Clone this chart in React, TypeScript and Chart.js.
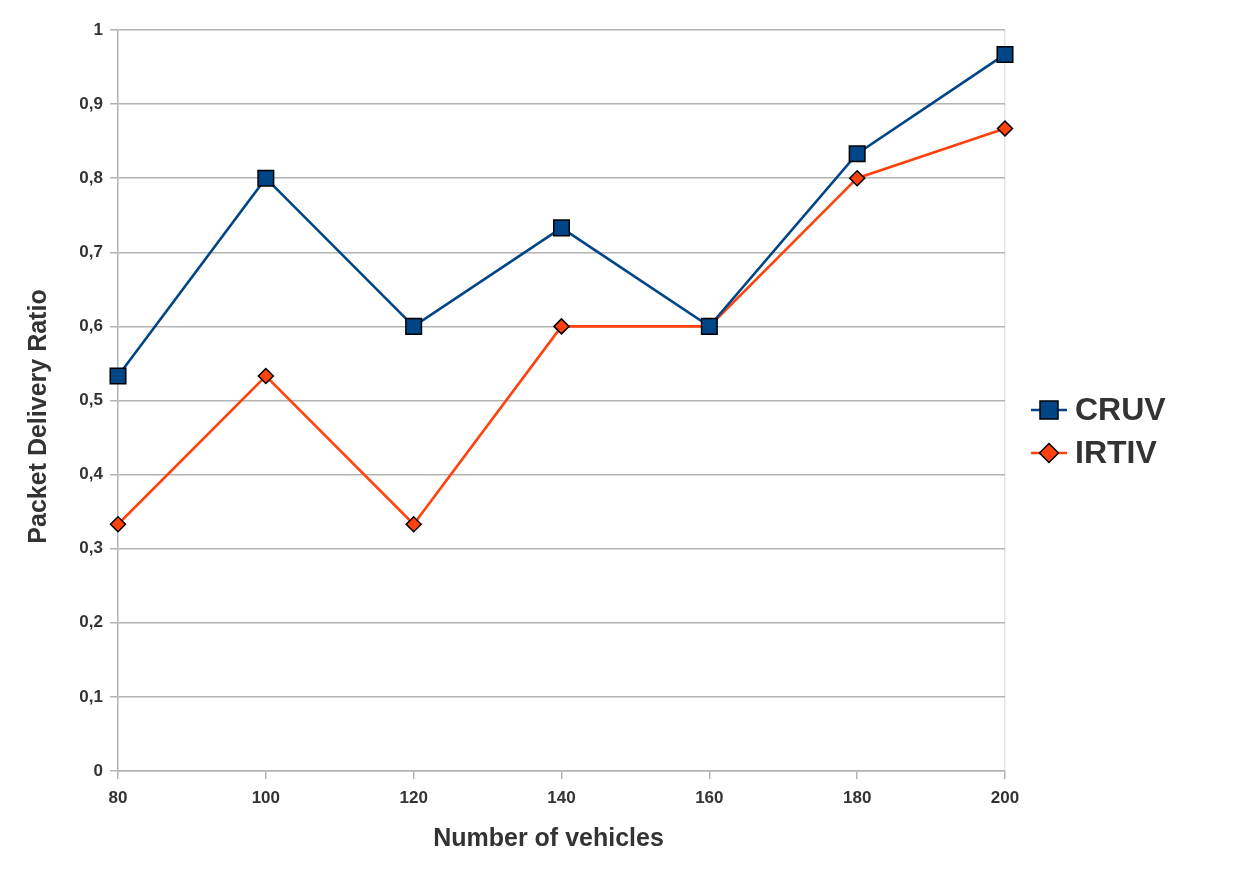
import React, { useEffect, useRef } from "react";
import { Chart, registerables } from "chart.js";

Chart.register(...registerables);

const vehicles = ["80", "100", "120", "140", "160", "180", "200"];
const cruv = [0.533, 0.8, 0.6, 0.733, 0.6, 0.833, 0.967];
const irtiv = [0.333, 0.533, 0.333, 0.6, 0.6, 0.8, 0.867];

const xTitle = "Number of vehicles";
const yTitle = "Packet Delivery Ratio";

const FONT = "'Liberation Sans', Arial, sans-serif";
const TEXT = "#333333";
const GRID = "#b3b3b3";
const BLUE = "#004586";
const ORANGE = "#ff420e";

// Axis titles and the legend beside the plot (line segment with the series marker on it).
const sideDecor = {
  id: "sideDecor",
  afterDraw(chart: any) {
    const { ctx, chartArea } = chart;
    ctx.save();

    ctx.fillStyle = TEXT;
    ctx.font = `bold 25px ${FONT}`;
    ctx.textAlign = "center";
    ctx.textBaseline = "middle";
    ctx.fillText(xTitle, chartArea.left + (chartArea.right - chartArea.left) / 2 - 13, 839);
    ctx.save();
    ctx.translate(39.5, chartArea.top + (chartArea.bottom - chartArea.top) / 2 + 16);
    ctx.rotate(-Math.PI / 2);
    ctx.fillText(yTitle, 0, 0);
    ctx.restore();

    const x0 = chartArea.right + 26;
    chart.data.datasets.forEach((ds: any, i: number) => {
      const y = 410 + i * 43;
      ctx.strokeStyle = ds.borderColor;
      ctx.lineWidth = 2.5;
      ctx.beginPath();
      ctx.moveTo(x0, y);
      ctx.lineTo(x0 + 36, y);
      ctx.stroke();
      ctx.fillStyle = ds.pointBackgroundColor;
      ctx.strokeStyle = "#000";
      ctx.lineWidth = 1.5;
      const cx = x0 + 18;
      ctx.beginPath();
      if (ds.pointStyle === "rect") {
        ctx.rect(cx - 9, y - 9, 18, 18);
      } else {
        ctx.moveTo(cx - 9.5, y);
        ctx.lineTo(cx, y - 9.5);
        ctx.lineTo(cx + 9.5, y);
        ctx.lineTo(cx, y + 9.5);
        ctx.closePath();
      }
      ctx.fill();
      ctx.stroke();
      ctx.fillStyle = TEXT;
      ctx.font = `bold 32px ${FONT}`;
      ctx.textBaseline = "middle";
      ctx.textAlign = "left";
      ctx.fillText(ds.label, x0 + 44, y + 1);
    });
    ctx.restore();
  },
};

function fmt(v: number) {
  return String(Number(v.toFixed(1))).replace(".", ",");
}

export default function App() {
  const ref = useRef<HTMLCanvasElement | null>(null);

  useEffect(() => {
    if (!ref.current) return;
    const chart = new Chart(ref.current, {
      type: "line",
      data: {
        labels: vehicles,
        datasets: [
          {
            label: "CRUV",
            data: cruv,
            borderColor: BLUE,
            backgroundColor: BLUE,
            pointBackgroundColor: BLUE,
            pointBorderColor: "#000",
            pointBorderWidth: 1.5,
            pointStyle: "rect",
            pointRadius: 11,
            borderWidth: 2.6,
            tension: 0,
          },
          {
            label: "IRTIV",
            data: irtiv,
            borderColor: ORANGE,
            backgroundColor: ORANGE,
            pointBackgroundColor: ORANGE,
            pointBorderColor: "#000",
            pointBorderWidth: 1.5,
            pointStyle: "rectRot",
            pointRadius: 7.5,
            borderWidth: 2.6,
            tension: 0,
          },
        ],
      },
      options: {
        animation: false,
        responsive: false,
        layout: { padding: { top: 30, right: 237, bottom: 0, left: 0 } },
        plugins: {
          legend: { display: false },
          tooltip: { enabled: false },
        },
        scales: {
          x: {
            type: "category",
            offset: false,
            afterFit(scale: any) {
              scale.height = 119;
            },
            border: { color: GRID, width: 1.5 },
            grid: {
              offset: false,
              color: (c: any) => (c.index === vehicles.length - 1 ? "#e4e4e4" : "rgba(0,0,0,0)"),
              tickColor: GRID,
              lineWidth: 1.5,
              tickLength: 8,
            },
            ticks: {
              color: TEXT,
              font: { family: FONT, size: 17, weight: "bold" },
              padding: 9,
              maxRotation: 0,
            },
          },
          y: {
            min: 0,
            max: 1,
            afterFit(scale: any) {
              scale.width = 118;
            },
            border: { color: GRID, width: 1.5 },
            grid: {
              color: GRID,
              tickColor: GRID,
              lineWidth: 1.5,
              tickLength: 8,
            },
            ticks: {
              stepSize: 0.1,
              color: TEXT,
              font: { family: FONT, size: 17, weight: "bold" },
              padding: 7,
              callback: (v: any) => fmt(Number(v)),
            },
          },
        },
      },
      plugins: [sideDecor],
    });
    return () => chart.destroy();
  }, []);

  return (
    <div style={{ position: "absolute", left: 0, top: 0, width: 1242, height: 890, background: "#fff" }}>
      <canvas ref={ref} width={1242} height={890} style={{ width: 1242, height: 890 }} />
    </div>
  );
}
